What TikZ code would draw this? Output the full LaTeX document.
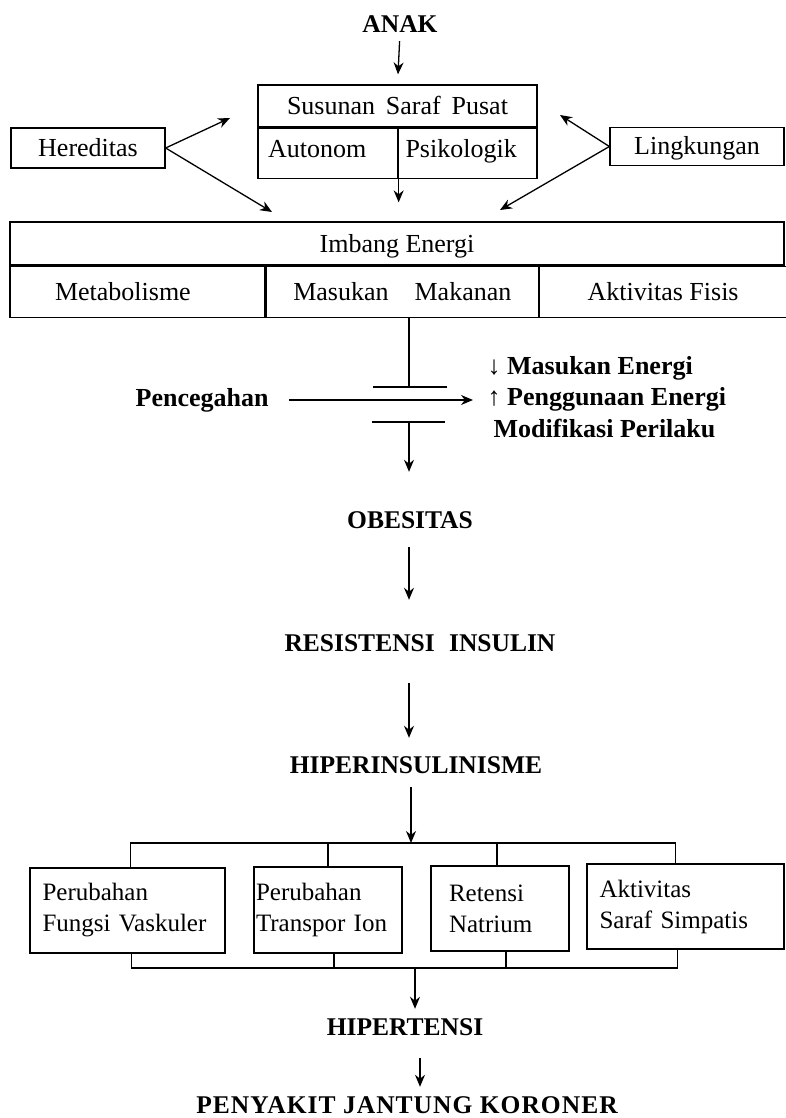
\documentclass[tikz,border=0pt]{standalone}
\usepackage{fontspec}
\setmainfont{Liberation Serif}
\usetikzlibrary{arrows.meta,positioning}

\newcommand{\bodysize}{\fontsize{26}{31}\selectfont}
\newcommand{\headsize}{\bfseries\fontsize{25.5}{28}\selectfont}

\begin{document}
\begin{tikzpicture}[x=1pt, y=-1pt, line width=1.3pt,
  >={Stealth[length=12pt,width=10pt]},
  cell/.style={draw, inner sep=0pt, font=\bodysize, text height=17pt, text depth=0pt},
  tbox/.style={draw, inner sep=0pt, font=\fontsize{25}{31}\selectfont, align=left},
  head/.style={font=\headsize, inner sep=0pt}]

\useasboundingbox (0,0) rectangle (785,1118);

% Child and central nervous system
\node[head] (anak) at (400,24) {ANAK};
\node[cell, minimum width=279pt, minimum height=42pt] (ssp) at (397.5,106) {Susunan\, Saraf\, Pusat};
\node[cell, minimum width=140pt, minimum height=50pt, anchor=north west, text depth=9pt,
      text width=120pt, align=left] (auto) at (ssp.south west) {Autonom};
\node[cell, minimum width=139pt, minimum height=50pt, anchor=north east, text depth=9pt,
      text width=124pt, align=left] (psi) at (ssp.south east) {Psikologik};

\node[cell, minimum width=154pt, minimum height=40pt] (hered) at (88,148) {Hereditas};
\node[cell, minimum width=174pt, minimum height=38pt] (ling) at (697,146.5) {Lingkungan};

% Energy balance
\node[cell, minimum width=774pt, minimum height=43pt] (imbang) at (397,243.5) {Imbang Energi};
\node[cell, minimum width=255pt, minimum height=51pt, anchor=north west,
      text width=165pt, align=left] (meta) at (imbang.south west) {Metabolisme};
\node[cell, minimum width=272pt, minimum height=51pt, anchor=west] (makan) at (meta.east) {Masukan\quad Makanan};
\node[cell, minimum width=247pt, minimum height=51pt, anchor=west] (fisik) at (makan.east) {Aktivitas Fisis};

\coordinate (hup) at (230,118);
\coordinate (hdown) at (272,212);
\coordinate (lup) at (560,115);
\coordinate (ldown) at (500,210);

\draw[->, shorten <=8pt, shorten >=10pt] (anak.south) -- (ssp.north);
\draw[->] (hered.east) -- (hup);
\draw[->] (hered.east) -- (hdown);
\draw[->] (ling.west) -- (lup);
\draw[->] (ling.west) -- (ldown);
\draw[->, shorten >=19pt] (auto.south east) -- (auto.south east |- imbang.north);

% Prevention
\coordinate (stem) at (409,387);
\coordinate (stemlow) at (409,422);
\draw (stem |- makan.south) -- (stem);
\draw ([xshift=-36pt]stem) -- ([xshift=38pt]stem);
\draw ([xshift=-37pt]stemlow) -- ([xshift=36pt]stemlow);

\node[head, anchor=west, font=\bfseries\fontsize{26}{28}\selectfont] (cegah) at (135,400) {Pencegahan};
\node[head, anchor=west, align=left, font=\bfseries\fontsize{26}{31.5}\selectfont] (upaya) at (487,397)
  {↓ Masukan Energi\\↑ Penggunaan Energi\\\hspace{6pt}Modifikasi Perilaku};
\draw[->, shorten <=20pt, shorten >=14pt] (cegah.east) -- (cegah.east -| upaya.west);

% Chain of consequences
\node[head] (obes) at (410,520) {OBESITAS};
\node[head] (resist) at (420,643) {RESISTENSI\hspace{8pt} INSULIN};
\node[head] (hiper) at (416,765) {HIPERINSULINISME};

\draw[->, shorten >=39pt] (stemlow) -- (stemlow |- obes.north);
\draw[->, shorten <=18pt, shorten >=34pt] (obes.south -| stem) -- (resist.north -| stem);
\draw[->, shorten <=31pt, shorten >=18pt] (resist.south -| stem) -- (hiper.north -| stem);

\node[tbox, minimum width=195pt, minimum height=85pt, text width=170pt] (vask) at (127.5,910.5) {Perubahan\\Fungsi Vaskuler};
\node[tbox, minimum width=148pt, minimum height=86pt, text width=144pt] (ion) at (328,910) {Perubahan\\Transpor Ion};
\node[tbox, minimum width=138pt, minimum height=85pt, text width=102pt] (natr) at (500,908.5) {Retensi\\Natrium};
\node[tbox, minimum width=197pt, minimum height=85pt, text width=172pt] (simp) at (685.5,906.5) {Aktivitas\\Saraf Simpatis};

\coordinate (bus) at (411,843);
\coordinate (busb) at (415,968);
\coordinate (last) at (420,1058);
\draw[->, shorten <=13pt] (hiper.south -| bus) -- (bus);
\draw ([xshift=3pt]vask.north) |- (bus) -| ([xshift=-10pt]simp.north);
\draw (ion.north) -- (ion.north |- bus);
\draw ([xshift=-3pt]natr.north) -- ([xshift=-3pt]natr.north |- bus);
\draw ([xshift=4pt]vask.south) |- (busb) -| ([xshift=-8pt]simp.south);
\draw ([xshift=6pt]ion.south) -- ([xshift=6pt]ion.south |- busb);
\draw ([xshift=6pt]natr.south) -- ([xshift=6pt]natr.south |- busb);

\node[head] (hipt) at (405,1027) {HIPERTENSI};
\node[inner sep=0pt, font=\headsize\addfontfeature{LetterSpace=4}] (pjk) at (407,1105) {PENYAKIT JANTUNG KORONER};

\draw[->, shorten >=9pt] (busb) -- (busb |- hipt.north);
\draw[->, shorten >=9pt] (last) -- (last |- pjk.north);

\end{tikzpicture}
\end{document}
